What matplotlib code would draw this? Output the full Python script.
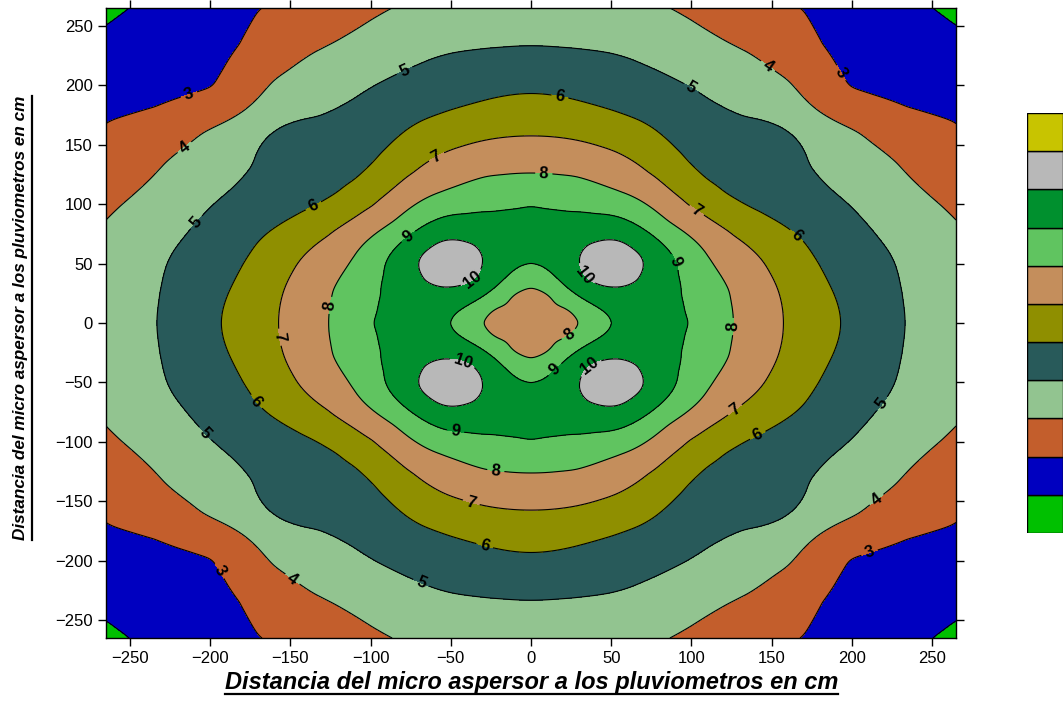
import numpy as np
import matplotlib
matplotlib.use("Agg")
import matplotlib.pyplot as plt
import matplotlib.tri as mtri
from matplotlib.lines import Line2D
from matplotlib.patches import Rectangle

plt.rcParams['font.family'] = ['Liberation Sans', 'DejaVu Sans']

# posicion de los pluviometros en un cuadrante (cm desde el micro aspersor)
pos_cm = np.array([0, 26.5, 53, 79.5, 106, 132.5, 159, 185.5, 212, 238.5, 265])

# lamina recogida en el cuadrante x>=0, y>=0 (filas = y, columnas = x)
lamina_cuadrante = np.array([
    [7.50, 7.90, 9.15, 9.50, 8.70, 7.80, 6.95, 6.20, 5.50, 4.90, 4.55],
    [7.90, 9.05, 9.85, 9.45, 8.60, 7.70, 6.85, 6.07, 5.44, 4.85, 4.45],
    [9.15, 9.85, 10.40, 9.52, 8.25, 7.34, 6.53, 5.82, 5.27, 4.76, 4.30],
    [9.50, 9.45, 9.52, 8.55, 7.50, 6.64, 6.03, 5.51, 5.00, 4.54, 4.08],
    [8.70, 8.60, 8.25, 7.50, 6.50, 5.89, 5.51, 5.12, 4.67, 4.19, 3.75],
    [7.80, 7.70, 7.34, 6.64, 5.89, 5.60, 5.23, 4.82, 4.32, 3.85, 3.42],
    [6.95, 6.85, 6.53, 6.03, 5.51, 5.23, 5.04, 4.46, 3.87, 3.48, 3.10],
    [6.20, 6.07, 5.82, 5.51, 5.12, 4.82, 4.46, 3.60, 3.20, 2.88, 2.78],
    [5.50, 5.44, 5.27, 5.00, 4.67, 4.32, 3.87, 3.20, 2.60, 2.45, 2.40],
    [4.90, 4.85, 4.76, 4.54, 4.19, 3.85, 3.48, 2.88, 2.45, 2.30, 2.12],
    [4.55, 4.45, 4.30, 4.08, 3.75, 3.42, 3.10, 2.78, 2.40, 2.12, 1.85],
])

niveles = np.arange(1, 13)
niveles_linea = np.arange(2, 12)
colores = ['#00C000', '#0000C0', '#C35E2C', '#92C490', '#285A5A', '#8F8F00',
           '#C48E5C', '#60C460', '#00902E', '#B8B8B8', '#C8C400']

# etiquetas de las isolineas
pos_etiquetas = [(-214, 195), (194, 211), (-196, -210), (211, -193),
                 (-215, 146), (146, 213), (-148, -214), (214, -146),
                 (-79, 213), (100, 198), (-209, 85), (-204, -94), (218, -67), (-68, -217),
                 (18, 190), (-137, 102), (166, 74), (-172, -67), (142, -96), (-29, -188),
                 (-59, 140), (102, 92), (-157, -12), (126, -71), (-37, -150),
                 (8, 126), (-126, 15), (126, -3), (-22, -125), (26, -14),
                 (-76, 72), (89, 51), (-47, -91), (17, -42),
                 (-41, 45), (39, 46), (-45, -42), (40, -43)]

# malla completa reflejando el cuadrante
xs = np.concatenate([-pos_cm[:0:-1], pos_cm])
zq = np.concatenate([lamina_cuadrante[:0:-1], lamina_cuadrante], axis=0)
Z = np.concatenate([zq[:, :0:-1], zq], axis=1)

X, Y = np.meshgrid(xs, xs)
n = len(xs)
tris = []
for j in range(n - 1):
    for i in range(n - 1):
        a = j * n + i
        b, c, d = a + 1, a + n, a + n + 1
        if (i + j) % 2 == 0:
            tris += [[a, b, d], [a, d, c]]
        else:
            tris += [[a, b, c], [b, d, c]]
tri = mtri.Triangulation(X.ravel(), Y.ravel(), np.array(tris))
interp = mtri.CubicTriInterpolator(tri, Z.ravel(), kind='min_E')

xf = np.linspace(-265, 265, 531)
XF, YF = np.meshgrid(xf, xf)
ZF = interp(XF, YF)

fig = plt.figure(figsize=(10.64, 7.02), dpi=100)
ax = fig.add_axes([106 / 1064, 64 / 702, 850 / 1064, 630 / 702])

ax.contourf(xf, xf, ZF, levels=niveles, colors=colores)
cs = ax.contour(xf, xf, ZF, levels=niveles_linea, colors='k', linewidths=0.8)
etiq = ax.clabel(cs, fmt='%d', fontsize=12, inline=True, inline_spacing=4,
                 manual=pos_etiquetas)
for t in etiq:
    t.set_fontweight('bold')

ax.set_xlim(-265, 265)
ax.set_ylim(-265, 265)
ax.set_xticks(np.arange(-250, 251, 50))
ax.set_yticks(np.arange(-250, 251, 50))
ax.tick_params(direction='out', length=6, width=1, labelsize=12,
               top=True, right=True, labeltop=False, labelright=False)
for sp in ax.spines.values():
    sp.set_linewidth(1)

titulo = 'Distancia del micro aspersor a los pluviometros en cm'
tx = fig.text(531.5 / 1064, 1 - 689 / 702, titulo, ha='center', va='baseline',
              fontsize=17, fontweight='bold', fontstyle='italic')
ty = fig.text(21 / 1064, 1 - 318 / 702, titulo, ha='center', va='center',
              rotation=90, fontsize=12.3, fontweight='bold', fontstyle='italic')

# subrayado de los titulos de los ejes
fig.canvas.draw()
inv = fig.transFigure.inverted()
bx = tx.get_window_extent().transformed(inv)
yl = 1 - 694 / 702
fig.add_artist(Line2D([bx.x0, bx.x1], [yl, yl],
                      transform=fig.transFigure, color='k', lw=1.6))
by = ty.get_window_extent().transformed(inv)
xl = by.x1 + 3 / 1064
fig.add_artist(Line2D([xl, xl], [by.y0, by.y1],
                      transform=fig.transFigure, color='k', lw=1.6))

# escala de colores
cax = fig.add_axes([1027 / 1064, 1 - 533 / 702, 36 / 1064, 420 / 702])
for k, col in enumerate(colores):
    cax.add_patch(Rectangle((0, k), 1, 1, facecolor=col, edgecolor='k', lw=1))
cax.set_xlim(0, 1)
cax.set_ylim(0, len(colores))
cax.axis('off')

fig.savefig('out.png', dpi=100)
